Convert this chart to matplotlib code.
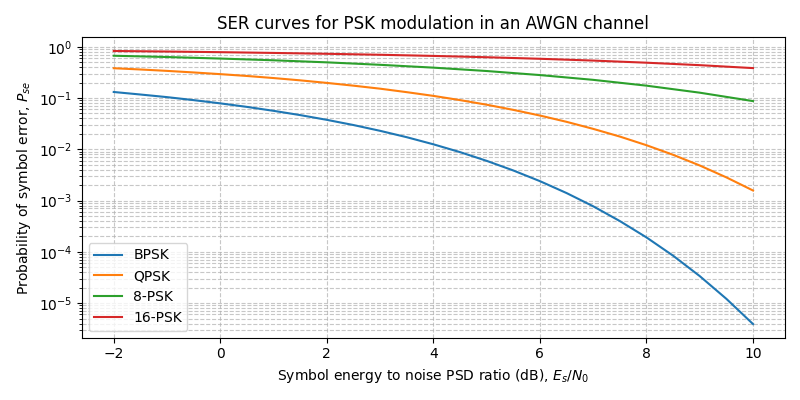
import numpy as np
import matplotlib
matplotlib.use("Agg")
import matplotlib.pyplot as plt

# Data
esn0_fine = [-2, -1.5, -1, -0.5, 0, 0.5, 1, 1.5, 2, 2.5, 3, 3.5, 4, 4.5,
             5, 5.5, 6, 6.5, 7, 7.5, 8, 8.5, 9, 9.5, 10]
ser_bpsk = [0.131, 0.117, 0.104, 0.0909, 0.0786, 0.0671, 0.0562, 0.0464,
            0.0375, 0.0297, 0.0229, 0.0172, 0.0125, 0.0088, 0.00595, 0.00386,
            0.00239, 0.0014, 0.000773, 0.000398, 0.000191, 8.4e-5, 3.36e-5,
            1.21e-5, 3.9e-6]
ser_qpsk = [0.381, 0.360, 0.338, 0.315, 0.292, 0.269, 0.245, 0.221, 0.197,
            0.174, 0.152, 0.130, 0.110, 0.091, 0.074, 0.0587, 0.0455, 0.0343,
            0.0250, 0.0177, 0.0120, 0.0078, 0.00483, 0.00283, 0.00157]

esn0_db = [-2, -1, 0, 1, 2, 3, 4, 5, 6, 7, 8, 9, 10]
ser_8psk = [0.667, 0.630, 0.588, 0.544, 0.496, 0.444, 0.391, 0.336,
            0.280, 0.226, 0.174, 0.127, 0.087]
ser_16psk = [0.826, 0.806, 0.783, 0.757, 0.728, 0.697, 0.662, 0.624,
             0.582, 0.537, 0.488, 0.437, 0.383]

fig, ax = plt.subplots(figsize=(8, 4), dpi=100)
ax.semilogy(esn0_fine, ser_bpsk, label="BPSK")
ax.semilogy(esn0_fine, ser_qpsk, label="QPSK")
ax.semilogy(esn0_db, ser_8psk, label="8-PSK")
ax.semilogy(esn0_db, ser_16psk, label="16-PSK")

ax.grid(True, which="both", linestyle="--", alpha=0.7)
ax.set_title("SER curves for PSK modulation in an AWGN channel")
ax.set_xlabel("Symbol energy to noise PSD ratio (dB), $E_s/N_0$")
ax.set_ylabel("Probability of symbol error, $P_{se}$")
ax.legend(loc="lower left")
fig.tight_layout()
fig.savefig("out.png")
